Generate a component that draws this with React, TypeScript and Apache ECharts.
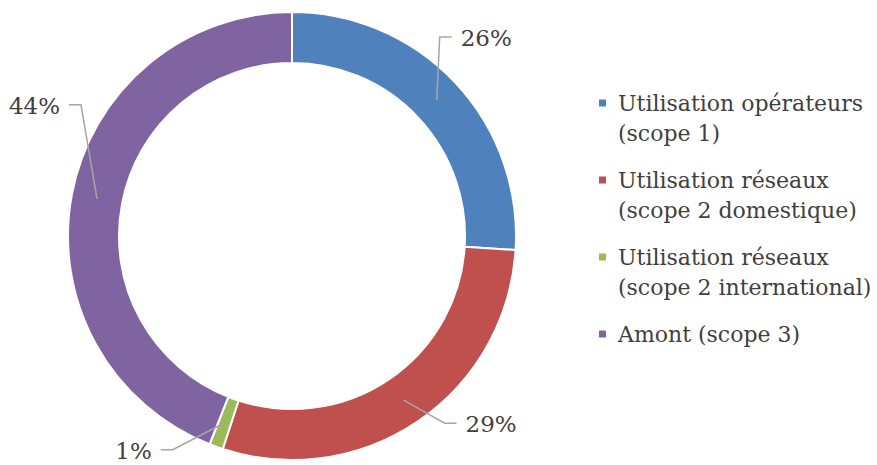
import React, { useEffect, useRef } from 'react';
import * as echarts from 'echarts';

const categories = [
  'Utilisation opérateurs\n(scope 1)',
  'Utilisation réseaux\n(scope 2 domestique)',
  'Utilisation réseaux\n(scope 2 international)',
  'Amont (scope 3)',
];
const values = [26, 29, 1, 44];
const colors = ['#4F81BD', '#C0504D', '#9BBB59', '#8064A2'];

// label placement relative to the middle of each ring segment
const labelOffsets = [
  [24, -62],
  [62, 24],
  [-73, 28],
  [-37, -93],
];

const FONT = 'DejaVu Serif';
const CX = 292;
const CY = 236;
const INNER = 173;
const OUTER = 224;
const MID = (INNER + OUTER) / 2;
const LINE_H = 30;

export default function App() {
  const ref = useRef<HTMLDivElement>(null);
  useEffect(() => {
    document.body.style.margin = '0';
    const chart = echarts.init(ref.current!, null, { renderer: 'svg' });
    const icon = 'path://M0,0H9V9H0Z M0,38.99H0.01V39H0Z';
    const data = categories.map((c, i) => ({ name: c, value: values[i] }));
    chart.setOption({
      animation: false,
      color: colors,
      legend: {
        orient: 'vertical',
        left: 597,
        top: 88,
        padding: 0,
        itemWidth: 9,
        itemHeight: 39,
        itemGap: 17,
        icon,
        data: categories,
        formatter: (name: string) => (name.includes('\n') ? name : name + '\n\u00a0'),
        textStyle: {
          fontFamily: FONT,
          fontSize: 22,
          color: '#404040',
          lineHeight: LINE_H,
          padding: [0, 0, 0, 6],
        },
      },
      series: [
        {
          type: 'pie',
          z: 2,
          center: [CX, CY],
          radius: [INNER, OUTER],
          startAngle: 90,
          clockwise: true,
          avoidLabelOverlap: false,
          itemStyle: { borderColor: '#ffffff', borderWidth: 2 },
          data,
          label: { show: false },
          labelLine: { show: false },
        },
        {
          type: 'pie',
          z: 10,
          center: [CX, CY],
          radius: [INNER, OUTER],
          startAngle: 90,
          clockwise: true,
          silent: true,
          avoidLabelOverlap: false,
          itemStyle: { color: 'rgba(0,0,0,0)', borderWidth: 0 },
          data,
          label: {
            show: true,
            position: 'outside',
            formatter: '{d}%',
            fontFamily: FONT,
            fontSize: 23,
            lineHeight: 22,
            color: '#404040',
          },
          labelLine: {
            show: true,
            length: 10,
            length2: 10,
            lineStyle: { color: '#a6a6a6', width: 1.5 },
          },
          labelLayout: (p: any) => {
            const i = p.dataIndex;
            const pts = p.labelLinePoints;
            let sx: number;
            let sy: number;
            if (pts && pts[0]) {
              const r = Math.hypot(pts[0][0] - CX, pts[0][1] - CY) || OUTER;
              sx = CX + ((pts[0][0] - CX) * MID) / r;
              sy = CY + ((pts[0][1] - CY) * MID) / r;
            } else {
              const total = values.reduce((a, b) => a + b, 0);
              const before = values.slice(0, i).reduce((a, b) => a + b, 0);
              const ang = ((before + values[i] / 2) / total) * Math.PI * 2;
              sx = CX + MID * Math.sin(ang);
              sy = CY - MID * Math.cos(ang);
            }
            const [dx, dy] = labelOffsets[i];
            const lx = sx + dx;
            const ly = sy + dy;
            const right = dx > 0;
            const sign = right ? -1 : 1;
            return {
              x: lx,
              y: ly,
              align: right ? 'left' : 'right',
              verticalAlign: 'middle',
              labelLinePoints: [
                [sx, sy],
                [lx + sign * 21, ly - 1],
                [lx + sign * 9, ly - 1],
              ],
            };
          },
        },
      ],
    });
    return () => chart.dispose();
  }, []);
  return <div ref={ref} style={{ width: 877, height: 465 }} />;
}
